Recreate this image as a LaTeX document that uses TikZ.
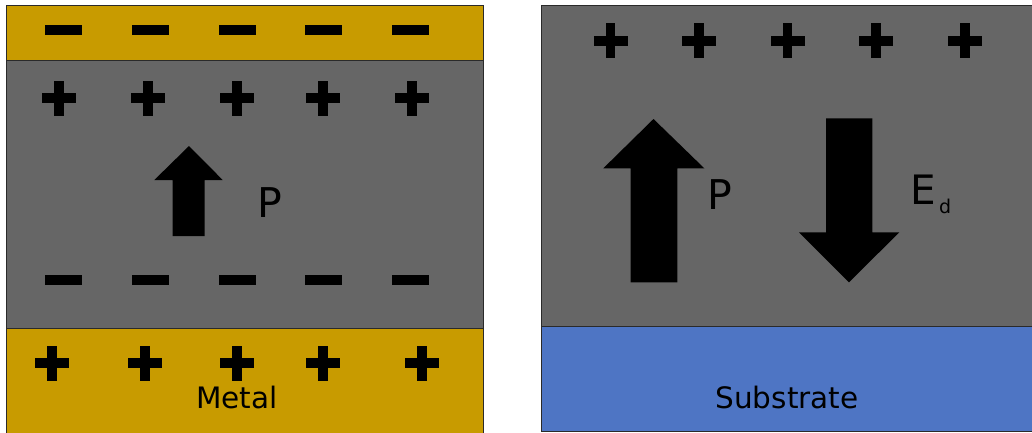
\documentclass[tikz,border=0pt]{standalone}
\usepackage{fontspec}
\setmainfont{DejaVu Sans}
\definecolor{metalgold}{HTML}{C89B00}
\definecolor{filmgray}{HTML}{666666}
\definecolor{subblue}{HTML}{4E75C4}
\definecolor{edge}{HTML}{2A2A2A}
\tikzset{
  plussign/.pic={
    \fill[black] (-17,-5) rectangle (17,5);
    \fill[black] (-4.8,-17.5) rectangle (4.8,17.5);
  },
  minussign/.pic={
    \fill[black] (-18.5,-5) rectangle (18.5,5);
  },
  layer/.style={draw=edge, line width=0.8pt},
  bigarrow/.style={fill=black, draw=none},
  lbl/.style={inner sep=0pt, outer sep=0pt, text=black},
}
\begin{document}
\begin{tikzpicture}[x=1pt,y=-1pt]
\useasboundingbox (0,0) rectangle (1032,432);
\begin{scope}
\clip (0,0) rectangle (1032,432);
% ---- left stack: metal / ferroelectric / metal ----
\fill[metalgold] (6,5) rectangle (483.5,60);
\fill[filmgray] (6,60) rectangle (483.5,328);
\fill[metalgold] (6,328) rectangle (483.5,440);
\draw[layer] (6,440) -- (6,5) -- (483.5,5) -- (483.5,440);
\draw[layer] (6,60) -- (483.5,60);
\draw[layer] (6,328) -- (483.5,328);
% ---- right stack: ferroelectric on substrate ----
\fill[filmgray] (541,5) rectangle (1040,326);
\fill[subblue] (541,326) rectangle (1040,431);
\draw[layer] (541,431) -- (541,5) -- (1040,5);
\draw[layer] (541,326) -- (1040,326);
\draw[layer] (541,431) -- (1040,431);
\end{scope}
% ---- charges, left ----
\foreach \x in {63,150,237,323,410} \pic at (\x,30) {minussign};
\foreach \x in {59,148,237,323,412} \pic at (\x,98) {plussign};
\foreach \x in {63,150,237,323,410} \pic at (\x,280) {minussign};
\foreach \x in {52,145,237,323,422} \pic at (\x,363) {plussign};
% ---- charges, right ----
\foreach \x in {610.5,699,787.5,876,965} \pic at (\x,40.5) {plussign};
% ---- polarisation arrow, left ----
\fill[bigarrow] (189,146) -- (222.7,180) -- (204.7,180) -- (204.7,236)
  -- (172.7,236) -- (172.7,180) -- (154.3,180) -- cycle;
\node[lbl, anchor=base west, font=\fontsize{41}{41}\selectfont] (pleft) at (257,217.3) {P};
% ---- polarisation and depolarising field, right ----
\fill[bigarrow] (653.5,119) -- (704.3,168.3) -- (677.3,168.3) -- (677.3,282.3)
  -- (630.7,282.3) -- (630.7,168.3) -- (603.3,168.3) -- cycle;
\node[lbl, anchor=base west, font=\fontsize{41}{41}\selectfont] (pright) at (707,209.3) {P};
\fill[bigarrow] (826,118.3) -- (872.3,118.3) -- (872.3,232.3) -- (899.3,232.3)
  -- (849,282.3) -- (799,232.3) -- (826,232.3) -- cycle;
\node[lbl, anchor=base west, font=\fontsize{40.5}{40.5}\selectfont] (efield) at (910,204.3) {E};
\node[lbl, anchor=base west, font=\fontsize{19}{19}\selectfont] (esub) at (939,213.3) {d};
% ---- layer names ----
\node[lbl, anchor=base, font=\fontsize{29.5}{29.5}\selectfont] (metal) at (237,408.3) {Metal};
\node[lbl, anchor=base, font=\fontsize{29.5}{29.5}\selectfont] (substrate) at (787,408) {Substrate};
\end{tikzpicture}
\end{document}
